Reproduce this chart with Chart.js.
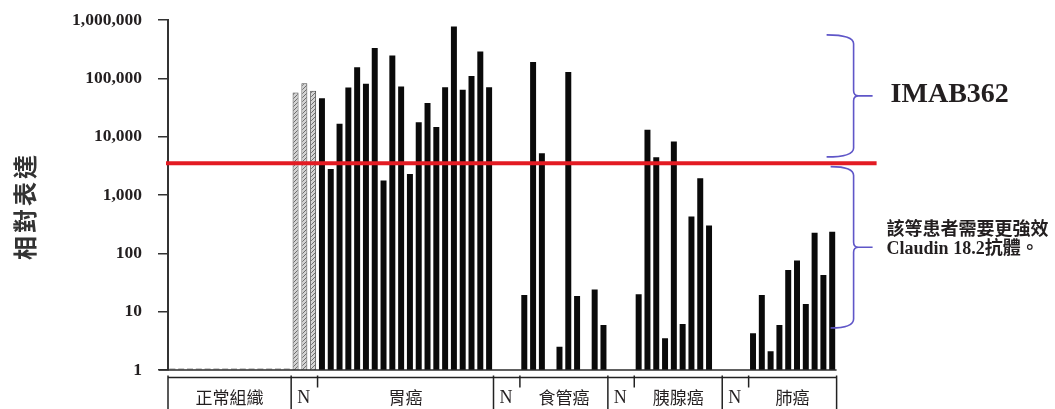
<!DOCTYPE html>
<html>
<head>
<meta charset="utf-8">
<script src="https://cdn.jsdelivr.net/npm/chart.js@4/dist/chart.umd.min.js"></script>
<style>
  html, body { margin: 0; padding: 0; background: #fff; }
  #chart { display: block; }
</style>
</head>
<body>
<canvas id="chart" width="1055" height="409"></canvas>
<script>
// values (relative expression, log scale)
const normalTissue = [1.08, 1.08, 1.08, 1.08, 1.08, 1.08, 1.08, 1.08, 1.08, 1.08, 1.08, 1.08, 1.08, 1.08];
const stomachN = [57000, 82700, 61000];
const stomachT = [45700, 2800, 16600, 69500, 155600, 80500, 330000, 1770, 246000, 72300,
                  2280, 17700, 37600, 14600, 70600, 774000, 63500, 110000, 288000, 70600];
const esophagusN = [null, null, null];
const esophagusT = [19.4, 190000, 5200, null, 2.5, 128000, 18.6, null, 24, 5.9];
const pancreasN = [null, null, null];
const pancreasT = [19.9, 13100, 4450, 3.5, 8240, 6.15, 426, 1940, 299, null];
const lungN = [null, null, null];
const lungT = [4.26, 19.3, 2.1, 5.9, 52, 75, 13.6, 226, 42.6, 235];

const normalLabel = "正常組織";
const cancerLabels = ["胃癌", "食管癌", "胰腺癌", "肺癌"];
const cancerN = [stomachN, esophagusN, pancreasN, lungN];
const cancerT = [stomachT, esophagusT, pancreasT, lungT];

const yTicks = [1, 10, 100, 1000, 10000, 100000, 1000000];
const yTickLabels = ["1", "10", "100", "1,000", "10,000", "100,000", "1,000,000"];
const yTitle = "相對表達";

const threshold = 3500;
const upperBrace = [557000, 4500];
const lowerBrace = [3070, 5.25];
const upperText = "IMAB362";
const lowerText = ["該等患者需要更強效", "Claudin 18.2抗體。"];

// build the flat slot list
const labels = [];
const normalData = [], hatchData = [], tumorData = [];
function push(vals, which, tag) {
  vals.forEach((v, i) => {
    labels.push(tag + "-" + i);
    normalData.push(which === 0 ? v : null);
    hatchData.push(which === 1 ? v : null);
    tumorData.push(which === 2 ? v : null);
  });
}
push(normalTissue, 0, normalLabel);
cancerLabels.forEach((c, k) => {
  push(cancerN[k], 1, c + "N");
  push(cancerT[k], 2, c);
});

function hatchPattern() {
  const c = document.createElement("canvas");
  c.width = 4; c.height = 4;
  const g = c.getContext("2d");
  g.fillStyle = "#d4d4d4";
  g.fillRect(0, 0, 4, 4);
  g.strokeStyle = "#6e6e6e";
  g.lineWidth = 1;
  g.beginPath();
  g.moveTo(0, 4); g.lineTo(4, 0);
  g.moveTo(-1, 1); g.lineTo(1, -1);
  g.moveTo(3, 5); g.lineTo(5, 3);
  g.stroke();
  return g.createPattern(c, "repeat");
}

const INK = "#231f20";
const CJK = '"Noto Sans CJK TC", "Noto Sans CJK SC", sans-serif';
const SERIF = '"Liberation Serif", "DejaVu Serif", serif';

function brace(ctx, xl, xs, xt, yTop, yBot) {
  const ym = (yTop + yBot) / 2;
  const r = 9;
  ctx.beginPath();
  ctx.moveTo(xl, yTop);
  ctx.quadraticCurveTo(xs, yTop, xs, yTop + r);
  ctx.lineTo(xs, ym - 5);
  ctx.quadraticCurveTo(xs, ym, xs + 5, ym);
  ctx.quadraticCurveTo(xs, ym, xs, ym + 5);
  ctx.lineTo(xs, yBot - r);
  ctx.quadraticCurveTo(xs, yBot, xl, yBot);
  ctx.moveTo(xs + 5, ym);
  ctx.lineTo(xt, ym);
  ctx.stroke();
  return ym;
}

const overlay = {
  id: "overlay",
  afterDatasetsDraw(chart) {
    const { ctx, chartArea: a, scales: { x, y } } = chart;
    const step = x.getPixelForValue(1) - x.getPixelForValue(0);
    const edge = (i) => x.getPixelForValue(i) - step / 2;
    ctx.save();

    // baseline
    ctx.strokeStyle = "#2b2b2b";
    ctx.lineWidth = 1.5;
    ctx.beginPath();
    ctx.moveTo(a.left - 9, a.bottom);
    ctx.lineTo(a.right, a.bottom);
    ctx.stroke();

    // threshold line
    const ty = y.getPixelForValue(threshold);
    ctx.strokeStyle = "#e31b23";
    ctx.lineWidth = 4;
    ctx.beginPath();
    ctx.moveTo(a.left - 2, ty);
    ctx.lineTo(a.right + 40, ty);
    ctx.stroke();

    // braces
    ctx.strokeStyle = "#5f56c8";
    ctx.lineWidth = 1.6;
    const um = brace(ctx, a.right - 10, a.right + 17, a.right + 36,
      y.getPixelForValue(upperBrace[0]), y.getPixelForValue(upperBrace[1]));
    const lm = brace(ctx, a.right - 6, a.right + 17, a.right + 36,
      y.getPixelForValue(lowerBrace[0]), y.getPixelForValue(lowerBrace[1]));

    // right-hand notes
    ctx.fillStyle = INK;
    ctx.textAlign = "left";
    ctx.textBaseline = "alphabetic";
    ctx.font = "bold 28px " + SERIF;
    ctx.fillText(upperText, a.right + 54, um + 6.5);
    ctx.textBaseline = "middle";
    ctx.font = "bold 18px " + CJK;
    ctx.fillText(lowerText[0], a.right + 50, lm - 19);
    ctx.font = 'bold 18px "Liberation Serif", ' + CJK;
    ctx.fillText(lowerText[1], a.right + 50, lm + 2);

    // y title
    ctx.save();
    ctx.translate(25, 206);
    ctx.rotate(-Math.PI / 2);
    ctx.font = "bold 24px " + CJK;
    ctx.fillStyle = "#333";
    ctx.textAlign = "center";
    ctx.letterSpacing = "3px";
    ctx.fillText(yTitle, 0, 0);
    ctx.restore();

    // group bracket under the axis
    const ly = a.bottom + 7.5;
    const bot = chart.height;
    const ty2 = ly + 10;
    ctx.strokeStyle = "#222";
    ctx.lineWidth = 1.5;
    ctx.beginPath();
    ctx.moveTo(edge(0), ly);
    ctx.lineTo(edge(labels.length), ly);
    ctx.stroke();
    const vline = (px, y1, y2) => {
      ctx.beginPath(); ctx.moveTo(px, y1); ctx.lineTo(px, y2); ctx.stroke();
    };
    const textY = 398;
    ctx.fillStyle = INK;
    ctx.textBaseline = "middle";
    ctx.textAlign = "center";
    ctx.font = "17px " + CJK;
    vline(edge(0), ly - 2, bot);
    ctx.fillText(normalLabel, (edge(0) + edge(normalTissue.length)) / 2, textY);
    let idx = normalTissue.length;
    cancerLabels.forEach((c, k) => {
      const nEnd = idx + cancerN[k].length;
      const tEnd = nEnd + cancerT[k].length;
      vline(edge(idx), ly - 2, bot);
      vline(edge(nEnd), ly - 2, ty2);
      ctx.font = "18px " + SERIF;
      ctx.textAlign = "left";
      ctx.fillText("N", edge(idx) + 6, textY);
      ctx.font = "17px " + CJK;
      ctx.textAlign = "center";
      ctx.fillText(c, (edge(nEnd) + edge(tEnd)) / 2, textY);
      idx = tEnd;
    });
    vline(edge(idx), ly - 2, bot);

    ctx.restore();
  }
};

const ctx = document.getElementById("chart").getContext("2d");
const barOpts = { grouped: false, categoryPercentage: 1, barPercentage: 0.68 };

new Chart(ctx, {
  type: "bar",
  data: {
    labels: labels,
    datasets: [
      Object.assign({ label: "normal", data: normalData, backgroundColor: "#c9c9c9" }, barOpts),
      Object.assign({ label: "N", data: hatchData, backgroundColor: hatchPattern(),
        borderColor: "#4a4a4a", borderWidth: 1 }, barOpts),
      Object.assign({ label: "tumor", data: tumorData, backgroundColor: "#0a0a0a" }, barOpts),
    ],
  },
  options: {
    responsive: false,
    devicePixelRatio: 1,
    animation: false,
    layout: { padding: { left: 0, top: 20, right: 218.4, bottom: 39 } },
    plugins: { legend: { display: false }, tooltip: { enabled: false } },
    scales: {
      x: { display: false, offset: true },
      y: {
        type: "logarithmic",
        min: 1,
        max: 1000000,
        afterBuildTicks: (s) => { s.ticks = yTicks.map((v) => ({ value: v })); },
        afterFit: (s) => { s.width = 168; s.paddingTop = 0; s.paddingBottom = 0; },
        ticks: {
          callback: (v, i) => yTickLabels[i],
          color: INK,
          padding: 16,
          font: { family: SERIF, size: 17.5, weight: "bold" },
        },
        grid: { drawOnChartArea: false, drawTicks: true, tickLength: 10, color: "#333", lineWidth: 1.5 },
        border: { display: true, color: "#333", width: 2 },
      },
    },
  },
  plugins: [overlay],
});
</script>
</body>
</html>
